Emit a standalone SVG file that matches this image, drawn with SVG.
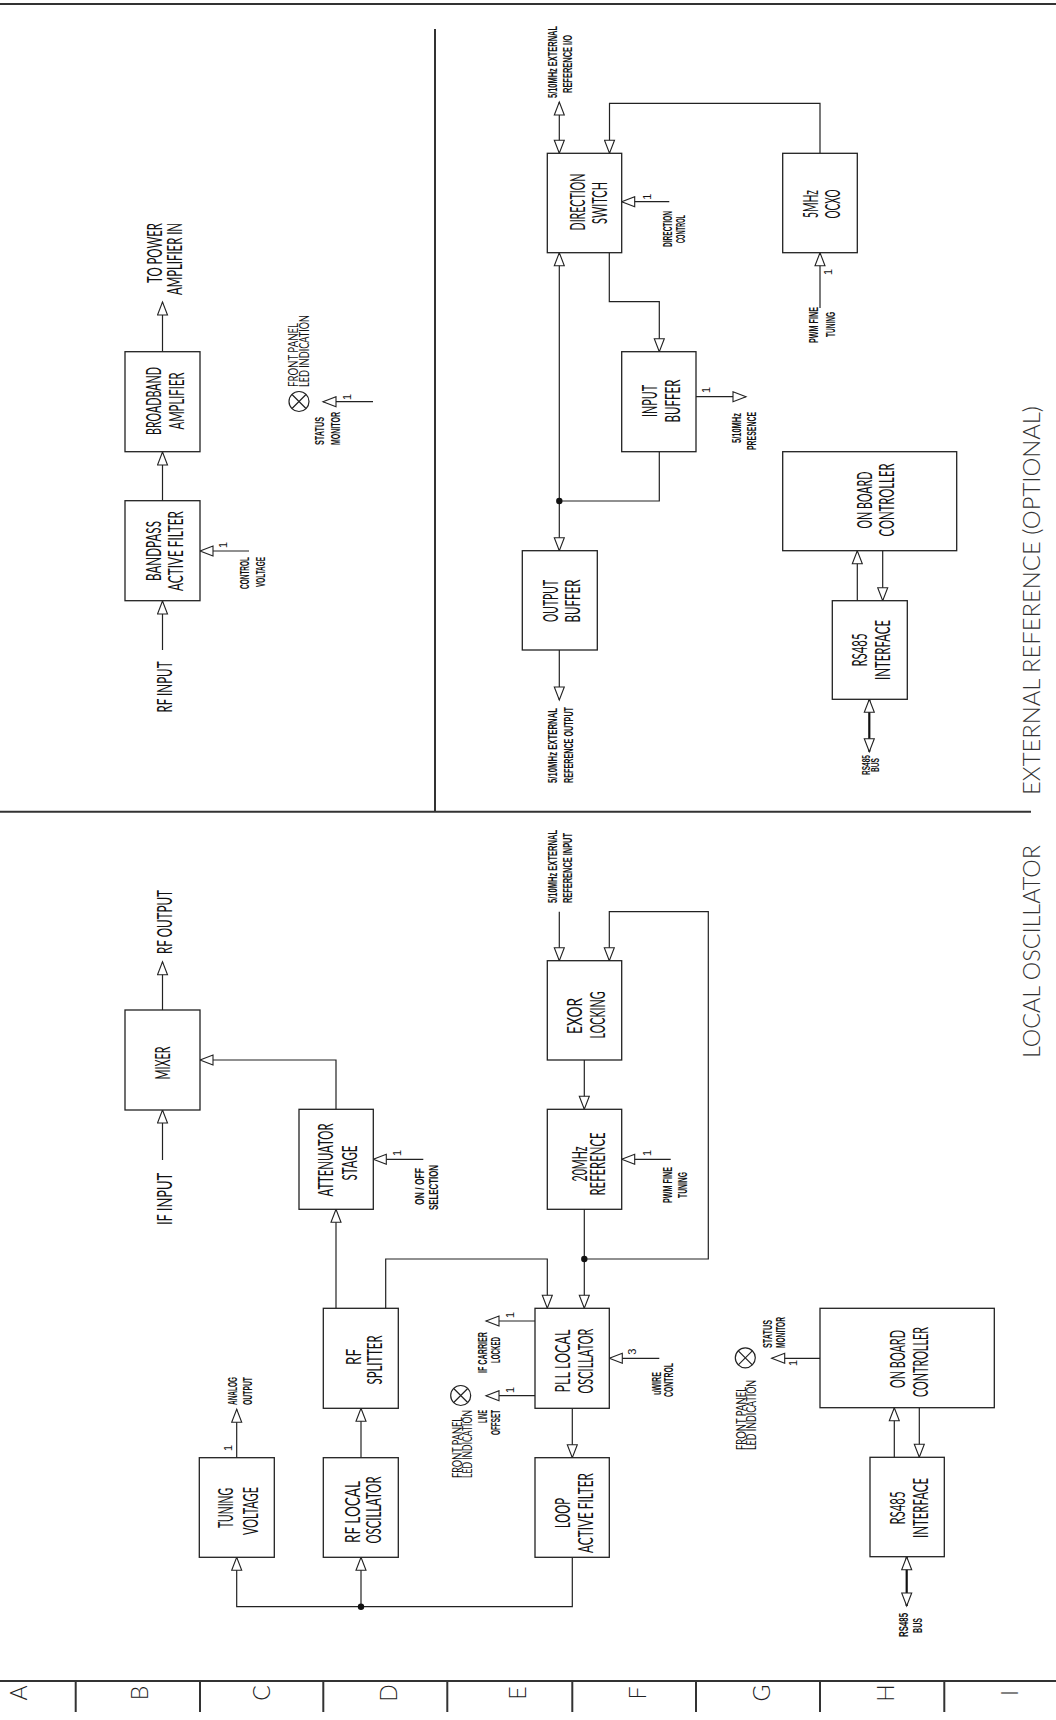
<svg xmlns="http://www.w3.org/2000/svg" width="1056" height="1720" viewBox="0 0 1056 1720">
<style>
.box{fill:#fff;stroke:#222;stroke-width:1.3}
.ln{fill:none;stroke:#222;stroke-width:1.2}
.bus{fill:none;stroke:#111;stroke-width:2.2}
.fr{fill:none;stroke:#333;stroke-width:2}
.t{font-family:Lato,"Liberation Sans",Arial,sans-serif;font-weight:400;font-size:21px;fill:#111;text-anchor:middle}
.s{font-family:"Liberation Sans",Arial,sans-serif;font-size:13.5px;font-weight:bold;fill:#111;text-anchor:middle}
.xs{font-family:"Liberation Sans",Arial,sans-serif;font-size:11px;font-weight:bold;fill:#111;text-anchor:middle}
.f{font-family:Lato,"Liberation Sans",Arial,sans-serif;font-size:12.5px;fill:#111;text-anchor:middle}
.n{font-family:"Liberation Sans",Arial,sans-serif;font-size:11px;fill:#111;text-anchor:middle}
.ti{font-family:Lato,"Liberation Sans",Arial,sans-serif;font-weight:300;font-size:24px;fill:#333;text-anchor:middle}
.g{font-family:Lato,"Liberation Sans",Arial,sans-serif;font-weight:300;font-size:23px;fill:#222;text-anchor:middle}
.led circle{fill:#fff;stroke:#222;stroke-width:1.2}
.led path{stroke:#222;stroke-width:1.2}
</style>
<defs>
<marker id="ah" viewBox="-1 -1 16 12" refX="13" refY="5" markerWidth="16" markerHeight="12" markerUnits="userSpaceOnUse" orient="auto-start-reverse">
<path d="M0,0 L13,5 L0,10 Z" fill="#fff" stroke="#222" stroke-width="1.1"/>
</marker>
<g id="ledsym" class="led"><circle r="10"/><path d="M-7,-7 L7,7 M-7,7 L7,-7"/></g>
</defs>
<rect width="1056" height="1720" fill="#fff"/>

<g id="frame">
<path class="fr" d="M0,4 H1056"/>
<path class="fr" d="M435,29 V812"/>
<path class="fr" d="M0,811.7 H1031"/>
<path class="fr" d="M0,1681 H1056"/>
<path class="fr" d="M75.7,1681 V1712 M200,1681 V1712 M323.3,1681 V1712 M447.3,1681 V1712 M572.3,1681 V1712 M696,1681 V1712 M820,1681 V1712 M944.3,1681 V1712"/>
<text class="g" transform="translate(26.7,1693) rotate(-90)">A</text>
<text class="g" transform="translate(148.2,1693) rotate(-90)">B</text>
<text class="g" transform="translate(270.2,1693) rotate(-90)">C</text>
<text class="g" transform="translate(397.2,1693) rotate(-90)">D</text>
<text class="g" transform="translate(526.2,1693) rotate(-90)">E</text>
<text class="g" transform="translate(645.7,1693) rotate(-90)">F</text>
<text class="g" transform="translate(770.2,1693) rotate(-90)">G</text>
<text class="g" transform="translate(894.2,1693) rotate(-90)">H</text>
<text class="g" transform="translate(1018.2,1693) rotate(-90)">I</text>
<text class="ti" transform="translate(1039.5,600.5) rotate(-90)" textLength="389" lengthAdjust="spacingAndGlyphs">EXTERNAL REFERENCE (OPTIONAL)</text>
<text class="ti" transform="translate(1039.5,951.5) rotate(-90)" textLength="213" lengthAdjust="spacingAndGlyphs">LOCAL OSCILLATOR</text>
</g>

<g id="connectors">
<path class="ln" marker-end="url(#ah)" d="M162.5,650 V601"/>
<path class="ln" marker-end="url(#ah)" d="M162.5,501 V452"/>
<path class="ln" marker-end="url(#ah)" d="M162.5,352 V302"/>
<path class="ln" marker-end="url(#ah)" d="M249,551 H200"/>
<path class="ln" marker-end="url(#ah)" d="M373,401.7 H323"/>

<path class="ln" marker-start="url(#ah)" marker-end="url(#ah)" d="M559.3,153.3 V102"/>
<path class="ln" marker-end="url(#ah)" d="M820,153.3 V103.3 H609.5 V153.3"/>
<path class="ln" marker-end="url(#ah)" d="M820,308 V252.7"/>
<path class="ln" marker-end="url(#ah)" d="M669.3,201.7 H621.7"/>
<path class="ln" marker-end="url(#ah)" d="M609.3,252.7 V301.7 H659.3 V351.7"/>
<path class="ln" marker-end="url(#ah)" d="M696,396.7 H746"/>
<path class="ln" d="M659.3,451.7 V501 H559.3"/>
<path class="ln" marker-end="url(#ah)" d="M559.3,501 V252.7"/>
<path class="ln" marker-end="url(#ah)" d="M559.3,501 V550.7"/>
<path class="ln" marker-end="url(#ah)" d="M559.3,650 V700"/>
<path class="ln" marker-end="url(#ah)" d="M857.3,600.7 V550.7"/>
<path class="ln" marker-end="url(#ah)" d="M882.7,550.7 V600.7"/>
<path class="bus" marker-start="url(#ah)" marker-end="url(#ah)" d="M869.3,699.3 V751.7"/>
<circle cx="559.3" cy="501" r="3.2" fill="#111"/>

<path class="ln" marker-end="url(#ah)" d="M162.5,1160 V1110"/>
<path class="ln" marker-end="url(#ah)" d="M162.5,1010 V961.7"/>
<path class="ln" marker-end="url(#ah)" d="M336,1109.3 V1060 H200"/>
<path class="ln" marker-end="url(#ah)" d="M423.3,1159.3 H373.3"/>
<path class="ln" marker-end="url(#ah)" d="M336,1308.3 V1209.3"/>
<path class="ln" marker-end="url(#ah)" d="M385.7,1308.3 V1259 H547.3 V1308.3"/>
<path class="ln" marker-end="url(#ah)" d="M361,1457.7 V1408.3"/>
<path class="ln" marker-end="url(#ah)" d="M236.7,1457.7 V1409.3"/>
<path class="ln" marker-end="url(#ah)" d="M572.3,1557.3 V1606.7 H236.7 V1557.3"/>
<path class="ln" marker-end="url(#ah)" d="M361,1606.7 V1557.3"/>
<circle cx="361" cy="1606.7" r="3.2" fill="#111"/>
<path class="ln" marker-end="url(#ah)" d="M584.3,1209.3 V1308.3"/>
<path class="ln" marker-end="url(#ah)" d="M584.3,1259 H708.3 V911.7 H609.3 V960.7"/>
<circle cx="584.3" cy="1259" r="3.2" fill="#111"/>
<path class="ln" marker-end="url(#ah)" d="M559.3,911.7 V960.7"/>
<path class="ln" marker-end="url(#ah)" d="M584.3,1060 V1109.3"/>
<path class="ln" marker-end="url(#ah)" d="M670.7,1159.3 H621.7"/>
<path class="ln" marker-end="url(#ah)" d="M572.3,1408.3 V1457.7"/>
<path class="ln" marker-end="url(#ah)" d="M535,1321 H486"/>
<path class="ln" marker-end="url(#ah)" d="M535,1395.7 H486"/>
<path class="ln" marker-end="url(#ah)" d="M659.3,1358.3 H609.3"/>
<path class="ln" marker-end="url(#ah)" d="M820,1358.3 H771.7"/>
<path class="ln" marker-end="url(#ah)" d="M894.3,1457.3 V1407.7"/>
<path class="ln" marker-end="url(#ah)" d="M919.3,1407.7 V1457.3"/>
<path class="bus" marker-start="url(#ah)" marker-end="url(#ah)" d="M906.7,1556.7 V1606"/>
</g>

<g id="io-labels">
<text class="t" transform="translate(161.5,253) rotate(-90)" textLength="60" lengthAdjust="spacingAndGlyphs">TO POWER</text>
<text class="t" transform="translate(181.5,259) rotate(-90)" textLength="72" lengthAdjust="spacingAndGlyphs">AMPLIFIER IN</text>
<text class="t" transform="translate(171.5,687) rotate(-90)" textLength="51" lengthAdjust="spacingAndGlyphs">RF INPUT</text>
<text class="t" transform="translate(172,922) rotate(-90)" textLength="64" lengthAdjust="spacingAndGlyphs">RF OUTPUT</text>
<text class="t" transform="translate(172,1199) rotate(-90)" textLength="52" lengthAdjust="spacingAndGlyphs">IF INPUT</text>

<text class="s" transform="translate(249.3,573) rotate(-90)" textLength="32" lengthAdjust="spacingAndGlyphs">CONTROL</text>
<text class="s" transform="translate(264.8,572) rotate(-90)" textLength="30" lengthAdjust="spacingAndGlyphs">VOLTAGE</text>
<text class="s" transform="translate(323.8,431) rotate(-90)" textLength="28" lengthAdjust="spacingAndGlyphs">STATUS</text>
<text class="s" transform="translate(339.8,428.5) rotate(-90)" textLength="33" lengthAdjust="spacingAndGlyphs">MONITOR</text>
<text class="f" transform="translate(298.3,355) rotate(-90)" textLength="64" lengthAdjust="spacingAndGlyphs">FRONT PANEL</text>
<text class="f" transform="translate(308.5,351) rotate(-90)" textLength="72" lengthAdjust="spacingAndGlyphs">LED INDICATION</text>
<use href="#ledsym" x="299" y="401.5"/>

<text class="s" transform="translate(557.3,62) rotate(-90)" textLength="72" lengthAdjust="spacingAndGlyphs">5/10MHz EXTERNAL</text>
<text class="s" transform="translate(572.3,64) rotate(-90)" textLength="58" lengthAdjust="spacingAndGlyphs">REFERENCE I/O</text>
<text class="s" transform="translate(671.5,229) rotate(-90)" textLength="36" lengthAdjust="spacingAndGlyphs">DIRECTION</text>
<text class="s" transform="translate(684.8,229) rotate(-90)" textLength="28" lengthAdjust="spacingAndGlyphs">CONTROL</text>
<text class="s" transform="translate(817.8,325) rotate(-90)" textLength="36" lengthAdjust="spacingAndGlyphs">PWM FINE</text>
<text class="s" transform="translate(835.3,324.5) rotate(-90)" textLength="25" lengthAdjust="spacingAndGlyphs">TUNING</text>
<text class="s" transform="translate(740.8,428) rotate(-90)" textLength="30" lengthAdjust="spacingAndGlyphs">5/10MHz</text>
<text class="s" transform="translate(755.8,431) rotate(-90)" textLength="38" lengthAdjust="spacingAndGlyphs">PRESENCE</text>
<text class="s" transform="translate(557.3,745.5) rotate(-90)" textLength="75" lengthAdjust="spacingAndGlyphs">5/10MHz EXTERNAL</text>
<text class="s" transform="translate(572.8,745) rotate(-90)" textLength="76" lengthAdjust="spacingAndGlyphs">REFERENCE OUTPUT</text>
<text class="xs" transform="translate(870,765) rotate(-90)" textLength="20" lengthAdjust="spacingAndGlyphs">RS485</text>
<text class="xs" transform="translate(879,765) rotate(-90)" textLength="14" lengthAdjust="spacingAndGlyphs">BUS</text>

<text class="s" transform="translate(423.8,1186.5) rotate(-90)" textLength="37" lengthAdjust="spacingAndGlyphs">ON / OFF</text>
<text class="s" transform="translate(437.8,1187.5) rotate(-90)" textLength="45" lengthAdjust="spacingAndGlyphs">SELECTION</text>
<text class="s" transform="translate(237.3,1391) rotate(-90)" textLength="28" lengthAdjust="spacingAndGlyphs">ANALOG</text>
<text class="s" transform="translate(252.3,1391) rotate(-90)" textLength="28" lengthAdjust="spacingAndGlyphs">OUTPUT</text>
<text class="s" transform="translate(557.3,866.5) rotate(-90)" textLength="73" lengthAdjust="spacingAndGlyphs">5/10MHz EXTERNAL</text>
<text class="s" transform="translate(572.3,868) rotate(-90)" textLength="70" lengthAdjust="spacingAndGlyphs">REFERENCE INPUT</text>
<text class="s" transform="translate(671.5,1185) rotate(-90)" textLength="36" lengthAdjust="spacingAndGlyphs">PWM FINE</text>
<text class="s" transform="translate(686.5,1185) rotate(-90)" textLength="26" lengthAdjust="spacingAndGlyphs">TUNING</text>
<text class="s" transform="translate(487.3,1352.5) rotate(-90)" textLength="41" lengthAdjust="spacingAndGlyphs">IF CARRIER</text>
<text class="s" transform="translate(499.8,1350) rotate(-90)" textLength="26" lengthAdjust="spacingAndGlyphs">LOCKED</text>
<text class="s" transform="translate(486.8,1416.5) rotate(-90)" textLength="13" lengthAdjust="spacingAndGlyphs">LINE</text>
<text class="s" transform="translate(499.8,1422.5) rotate(-90)" textLength="25" lengthAdjust="spacingAndGlyphs">OFFSET</text>
<text class="f" transform="translate(461.5,1447.5) rotate(-90)" textLength="61" lengthAdjust="spacingAndGlyphs">FRONT PANEL</text>
<text class="f" transform="translate(472,1444) rotate(-90)" textLength="68" lengthAdjust="spacingAndGlyphs">LED INDICATION</text>
<use href="#ledsym" x="460.7" y="1395.5"/>
<text class="s" transform="translate(660.8,1383.5) rotate(-90)" textLength="23" lengthAdjust="spacingAndGlyphs">uWIRE</text>
<text class="s" transform="translate(672.8,1380) rotate(-90)" textLength="34" lengthAdjust="spacingAndGlyphs">CONTROL</text>
<text class="f" transform="translate(745.5,1418.5) rotate(-90)" textLength="63" lengthAdjust="spacingAndGlyphs">FRONT PANEL</text>
<text class="f" transform="translate(755.5,1415) rotate(-90)" textLength="70" lengthAdjust="spacingAndGlyphs">LED INDICATION</text>
<use href="#ledsym" x="745.3" y="1357.8"/>
<text class="s" transform="translate(771.5,1334) rotate(-90)" textLength="28" lengthAdjust="spacingAndGlyphs">STATUS</text>
<text class="s" transform="translate(784.8,1332.5) rotate(-90)" textLength="31" lengthAdjust="spacingAndGlyphs">MONITOR</text>
<text class="s" transform="translate(907.8,1625) rotate(-90)" textLength="24" lengthAdjust="spacingAndGlyphs">RS485</text>
<text class="s" transform="translate(921.5,1625.5) rotate(-90)" textLength="15" lengthAdjust="spacingAndGlyphs">BUS</text>

<text class="n" transform="translate(227,545) rotate(-90)">1</text>
<text class="n" transform="translate(351,397) rotate(-90)">1</text>
<text class="n" transform="translate(650.7,196.7) rotate(-90)">1</text>
<text class="n" transform="translate(832,272) rotate(-90)">1</text>
<text class="n" transform="translate(710,390) rotate(-90)">1</text>
<text class="n" transform="translate(400.7,1153) rotate(-90)">1</text>
<text class="n" transform="translate(651,1153) rotate(-90)">1</text>
<text class="n" transform="translate(232,1448) rotate(-90)">1</text>
<text class="n" transform="translate(514,1315) rotate(-90)">1</text>
<text class="n" transform="translate(514,1390) rotate(-90)">1</text>
<text class="n" transform="translate(635.7,1351.7) rotate(-90)">3</text>
<text class="n" transform="translate(797,1363) rotate(-90)">1</text>
</g>

<g id="broadband-amplifier"><rect class="box" x="125" y="351.7" width="75" height="100"/>
<text class="t" transform="translate(160.5,401) rotate(-90)" textLength="68" lengthAdjust="spacingAndGlyphs">BROADBAND</text>
<text class="t" transform="translate(183.5,401) rotate(-90)" textLength="57" lengthAdjust="spacingAndGlyphs">AMPLIFIER</text></g>

<g id="bandpass-filter"><rect class="box" x="125" y="500.7" width="75" height="100"/>
<text class="t" transform="translate(160.5,551) rotate(-90)" textLength="60" lengthAdjust="spacingAndGlyphs">BANDPASS</text>
<text class="t" transform="translate(182.5,551) rotate(-90)" textLength="80" lengthAdjust="spacingAndGlyphs">ACTIVE FILTER</text></g>

<g id="direction-switch"><rect class="box" x="547.3" y="153.3" width="74.4" height="99.4"/>
<text class="t" transform="translate(584.5,202) rotate(-90)" textLength="57" lengthAdjust="spacingAndGlyphs">DIRECTION</text>
<text class="t" transform="translate(606.5,203) rotate(-90)" textLength="42" lengthAdjust="spacingAndGlyphs">SWITCH</text></g>

<g id="ocxo"><rect class="box" x="782.7" y="153.3" width="74.6" height="99.4"/>
<text class="t" transform="translate(817.5,204) rotate(-90)" textLength="28" lengthAdjust="spacingAndGlyphs">5MHz</text>
<text class="t" transform="translate(839.5,204) rotate(-90)" textLength="29" lengthAdjust="spacingAndGlyphs">OCXO</text></g>

<g id="input-buffer"><rect class="box" x="621.7" y="351.7" width="74.3" height="100"/>
<text class="t" transform="translate(657,401) rotate(-90)" textLength="32" lengthAdjust="spacingAndGlyphs">INPUT</text>
<text class="t" transform="translate(679.5,401) rotate(-90)" textLength="43" lengthAdjust="spacingAndGlyphs">BUFFER</text></g>

<g id="output-buffer"><rect class="box" x="522.3" y="550.7" width="75" height="99.3"/>
<text class="t" transform="translate(558,601) rotate(-90)" textLength="42" lengthAdjust="spacingAndGlyphs">OUTPUT</text>
<text class="t" transform="translate(580,601) rotate(-90)" textLength="43" lengthAdjust="spacingAndGlyphs">BUFFER</text></g>

<g id="controller-ext"><rect class="box" x="782.7" y="451.7" width="174" height="99"/>
<text class="t" transform="translate(871.5,500) rotate(-90)" textLength="57" lengthAdjust="spacingAndGlyphs">ON BOARD</text>
<text class="t" transform="translate(893.5,500) rotate(-90)" textLength="73" lengthAdjust="spacingAndGlyphs">CONTROLLER</text></g>

<g id="rs485-ext"><rect class="box" x="832.3" y="600.7" width="75" height="98.6"/>
<text class="t" transform="translate(866.5,650) rotate(-90)" textLength="33" lengthAdjust="spacingAndGlyphs">RS485</text>
<text class="t" transform="translate(889.5,650) rotate(-90)" textLength="60" lengthAdjust="spacingAndGlyphs">INTERFACE</text></g>

<g id="mixer"><rect class="box" x="125" y="1010" width="75" height="100"/>
<text class="t" transform="translate(170,1063) rotate(-90)" textLength="33" lengthAdjust="spacingAndGlyphs">MIXER</text></g>

<g id="attenuator"><rect class="box" x="299" y="1109.3" width="74.3" height="100"/>
<text class="t" transform="translate(333.3,1160) rotate(-90)" textLength="73" lengthAdjust="spacingAndGlyphs">ATTENUATOR</text>
<text class="t" transform="translate(356.5,1163) rotate(-90)" textLength="35" lengthAdjust="spacingAndGlyphs">STAGE</text></g>

<g id="rf-splitter"><rect class="box" x="323.3" y="1308.3" width="75" height="100"/>
<text class="t" transform="translate(360.5,1357) rotate(-90)" textLength="16" lengthAdjust="spacingAndGlyphs">RF</text>
<text class="t" transform="translate(381.5,1360) rotate(-90)" textLength="49" lengthAdjust="spacingAndGlyphs">SPLITTER</text></g>

<g id="rf-local-oscillator"><rect class="box" x="323.3" y="1457.7" width="75" height="99.6"/>
<text class="t" transform="translate(359.5,1512) rotate(-90)" textLength="62" lengthAdjust="spacingAndGlyphs">RF LOCAL</text>
<text class="t" transform="translate(381,1510) rotate(-90)" textLength="67" lengthAdjust="spacingAndGlyphs">OSCILLATOR</text></g>

<g id="tuning-voltage"><rect class="box" x="199.3" y="1457.7" width="75" height="99.6"/>
<text class="t" transform="translate(233.3,1508) rotate(-90)" textLength="40" lengthAdjust="spacingAndGlyphs">TUNING</text>
<text class="t" transform="translate(257.5,1511) rotate(-90)" textLength="48" lengthAdjust="spacingAndGlyphs">VOLTAGE</text></g>

<g id="pll-local-oscillator"><rect class="box" x="535" y="1308.3" width="74.3" height="100"/>
<text class="t" transform="translate(570,1361) rotate(-90)" textLength="63" lengthAdjust="spacingAndGlyphs">PLL LOCAL</text>
<text class="t" transform="translate(593.3,1361) rotate(-90)" textLength="65" lengthAdjust="spacingAndGlyphs">OSCILLATOR</text></g>

<g id="ref-20mhz"><rect class="box" x="547.3" y="1109.3" width="74.4" height="100"/>
<text class="t" transform="translate(587,1164) rotate(-90)" textLength="35" lengthAdjust="spacingAndGlyphs">20MHz</text>
<text class="t" transform="translate(605,1164) rotate(-90)" textLength="63" lengthAdjust="spacingAndGlyphs">REFERENCE</text></g>

<g id="exor-locking"><rect class="box" x="547.3" y="960.7" width="74.4" height="99.3"/>
<text class="t" transform="translate(582,1016) rotate(-90)" textLength="36" lengthAdjust="spacingAndGlyphs">EXOR</text>
<text class="t" transform="translate(605,1015) rotate(-90)" textLength="47" lengthAdjust="spacingAndGlyphs">LOCKING</text></g>

<g id="loop-filter"><rect class="box" x="535" y="1457.7" width="74.3" height="99.6"/>
<text class="t" transform="translate(570,1513) rotate(-90)" textLength="30" lengthAdjust="spacingAndGlyphs">LOOP</text>
<text class="t" transform="translate(593.3,1513) rotate(-90)" textLength="80" lengthAdjust="spacingAndGlyphs">ACTIVE FILTER</text></g>

<g id="controller-lo"><rect class="box" x="820" y="1308.3" width="174.3" height="99.4"/>
<text class="t" transform="translate(905,1359) rotate(-90)" textLength="58" lengthAdjust="spacingAndGlyphs">ON BOARD</text>
<text class="t" transform="translate(928,1362) rotate(-90)" textLength="70" lengthAdjust="spacingAndGlyphs">CONTROLLER</text></g>

<g id="rs485-lo"><rect class="box" x="870" y="1457.3" width="74.3" height="99.4"/>
<text class="t" transform="translate(905,1508) rotate(-90)" textLength="33" lengthAdjust="spacingAndGlyphs">RS485</text>
<text class="t" transform="translate(928,1508) rotate(-90)" textLength="60" lengthAdjust="spacingAndGlyphs">INTERFACE</text></g>
</svg>
